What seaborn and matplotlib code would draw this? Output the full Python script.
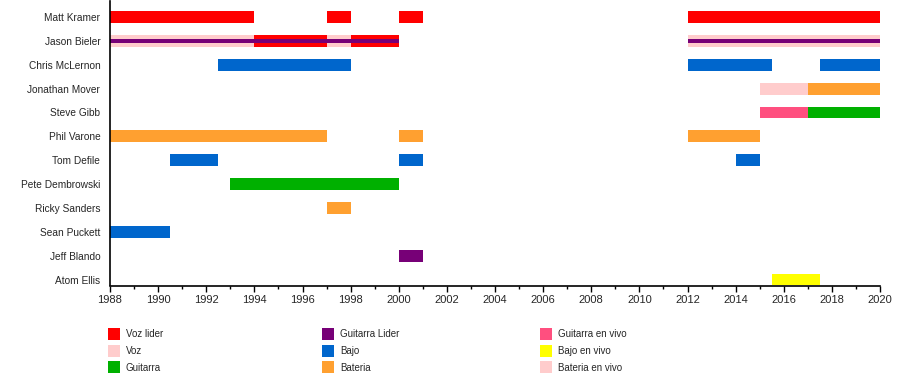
import matplotlib
matplotlib.use("Agg")
import matplotlib.pyplot as plt
from matplotlib.patches import Patch
from matplotlib.ticker import MultipleLocator
import seaborn as sns

# band members, top to bottom
members = ["Matt Kramer", "Jason Bieler", "Chris McLernon", "Jonathan Mover",
           "Steve Gibb", "Phil Varone", "Tom Defile", "Pete Dembrowski",
           "Ricky Sanders", "Sean Puckett", "Jeff Blando", "Atom Ellis"]

roles = ["Voz lider", "Voz", "Guitarra",
         "Guitarra Lider", "Bajo", "Bateria",
         "Guitarra en vivo", "Bajo en vivo", "Bateria en vivo"]
role_colors = ["#ff0000", "#ffcccc", "#00b000",
               "#770077", "#0066cc", "#ffa030",
               "#ff4f7f", "#ffff00", "#ffcccc"]

# one entry per bar
bar_member = ["Matt Kramer", "Matt Kramer", "Matt Kramer", "Matt Kramer",
              "Jason Bieler", "Jason Bieler", "Jason Bieler", "Jason Bieler", "Jason Bieler",
              "Jason Bieler", "Jason Bieler",
              "Chris McLernon", "Chris McLernon", "Chris McLernon",
              "Jonathan Mover", "Jonathan Mover",
              "Steve Gibb", "Steve Gibb",
              "Phil Varone", "Phil Varone", "Phil Varone",
              "Tom Defile", "Tom Defile", "Tom Defile",
              "Pete Dembrowski", "Ricky Sanders", "Sean Puckett", "Jeff Blando", "Atom Ellis"]
bar_role = ["Voz lider", "Voz lider", "Voz lider", "Voz lider",
            "Voz", "Voz lider", "Voz", "Voz lider", "Voz",
            "Guitarra Lider", "Guitarra Lider",
            "Bajo", "Bajo", "Bajo",
            "Bateria en vivo", "Bateria",
            "Guitarra en vivo", "Guitarra",
            "Bateria", "Bateria", "Bateria",
            "Bajo", "Bajo", "Bajo",
            "Guitarra", "Bateria", "Bajo", "Guitarra Lider", "Bajo en vivo"]
bar_start = [1988, 1997, 2000, 2012,
             1988, 1994, 1997, 1998, 2012,
             1988, 2012,
             1992.5, 2012, 2017.5,
             2015, 2017,
             2015, 2017,
             1988, 2000, 2012,
             1990.5, 2000, 2014,
             1993, 1997, 1988, 2000, 2015.5]
bar_end = [1994, 1998, 2001, 2020,
           1994, 1997, 1998, 2000, 2020,
           2000, 2020,
           1998, 2015.5, 2020,
           2017, 2020,
           2017, 2020,
           1997, 2001, 2015,
           1992.5, 2001, 2015,
           2000, 1998, 1990.5, 2001, 2017.5]

sns.set_theme(style="white")
plt.rcParams["font.family"] = ["Liberation Sans", "DejaVu Sans"]

fig = plt.figure(figsize=(9, 3.85), dpi=100)
ax = fig.add_axes([110 / 900, 1 - 285.5 / 385, 770 / 900, 284 / 385])

color_of = dict(zip(roles, role_colors))
row_of = {m: i for i, m in enumerate(members)}

# a bar that overlaps an earlier bar in the same row is drawn as a thin stripe
drawn = []
for m, r, s, e in zip(bar_member, bar_role, bar_start, bar_end):
    y = row_of[m]
    overlap = any(dm == m and s < de and e > ds for dm, ds, de in drawn)
    h = 0.17 if overlap else 0.5
    ax.barh(y, e - s, left=s, height=h, color=color_of[r], linewidth=0)
    drawn.append((m, s, e))

ax.set_xlim(1988, 2020)
ax.set_ylim(len(members) - 1 + 0.25, -0.65)
ax.set_yticks(range(len(members)))
ax.set_yticklabels(members, fontsize=7.3)
ax.xaxis.set_major_locator(MultipleLocator(2))
ax.xaxis.set_minor_locator(MultipleLocator(1))
ax.tick_params(axis="x", which="major", bottom=True, length=4, width=1,
               color="black", labelsize=8, pad=3)
ax.tick_params(axis="x", which="minor", bottom=True, length=2, width=1, color="black")
ax.tick_params(axis="y", left=False, length=0, pad=7)
for side in ["top", "right"]:
    ax.spines[side].set_visible(False)
for side in ["left", "bottom"]:
    ax.spines[side].set_color("black")
    ax.spines[side].set_linewidth(1.2)

# legend, three columns of three
col_x = [108 / 900, 322 / 900, 540 / 900]
for c in range(3):
    handles = [Patch(facecolor=color_of[r], edgecolor="none") for r in roles[c * 3:c * 3 + 3]]
    fig.legend(handles, roles[c * 3:c * 3 + 3], loc="upper left",
               bbox_to_anchor=(col_x[c], 1 - 328 / 385), frameon=False,
               fontsize=7, handlelength=1.25, handleheight=1.5, handletextpad=0.6,
               labelspacing=0.5, borderaxespad=0, borderpad=0)

fig.savefig("out.png", dpi=100)
